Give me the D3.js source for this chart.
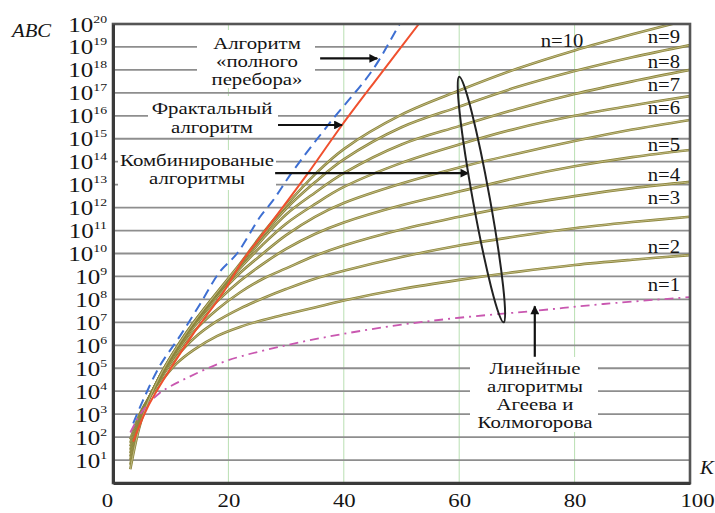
<!DOCTYPE html>
<html>
<head>
<meta charset="utf-8">
<script src="https://cdn.jsdelivr.net/npm/d3@7/dist/d3.min.js"></script>
<style>
  html, body { margin: 0; padding: 0; background: #fff; }
  svg { display: block; font-family: "Liberation Serif", "Times New Roman", serif; }
</style>
</head>
<body>
<svg id="chart" width="715" height="513"></svg>
<script>
// Number of elements K (x axis)
const xTicks = [0, 20, 40, 60, 80, 100];
// Decades shown on the log axis (10^1 … 10^20)
const yExponents = d3.range(1, 21);

// log10(ABC) for the exhaustive ("full search") algorithm
const bruteK   = [3.5, 5.2, 8.1, 11.6, 15.1, 18.5, 21.5, 25.5, 27.7, 31.2, 37.6, 45, 49.7, 52];
const bruteLog = [2.6, 3.6, 5.1, 6.4, 7.8, 9.2, 10.0, 11.6, 12.3, 13.6, 15.7, 18.0, 20.0, 20.9];

// log10(ABC) for the fractal algorithm
const fractalK   = [3.5, 6, 10, 13.9, 19.1, 22.5, 25.5, 33.8, 39.7, 46, 53, 56];
const fractalLog = [1.8, 3.3, 5.0, 6.5, 8.3, 9.7, 10.7, 13.5, 15.6, 17.7, 20.0, 21.0];

// log10(ABC) for the linear algorithms (n = 1)
const linearK   = [3, 5, 8, 13, 20, 30, 40, 50, 60, 73, 85, 100];
const linearLog = [2.2, 3.1, 3.9, 4.6, 5.35, 6.0, 6.5, 6.9, 7.2, 7.5, 7.8, 8.1];

// log10(ABC) for the combined algorithms, n = 2 … 10
const combK  = [3, 5, 8, 11, 14, 18, 22, 26, 30, 35, 40, 50, 60, 70, 80, 90, 100];
const comb2  = [1.9, 3.2, 4.3, 5.2, 5.8, 6.4, 6.8, 7.1, 7.35, 7.65, 7.95, 8.45, 8.85, 9.2, 9.5, 9.73, 9.93];
const comb3  = [1.75, 3.15, 4.45, 5.5, 6.3, 7.05, 7.6, 8.05, 8.45, 8.9, 9.25, 9.85, 10.35, 10.75, 11.1, 11.37, 11.6];
const comb4  = [1.6, 3.1, 4.5, 5.65, 6.6, 7.55, 8.3, 8.9, 9.35, 9.9, 10.35, 11.05, 11.6, 12.1, 12.5, 12.85, 13.12];
const comb5  = [1.45, 3.05, 4.55, 5.75, 6.8, 7.9, 8.8, 9.55, 10.2, 10.85, 11.35, 12.1, 12.7, 13.3, 13.8, 14.2, 14.51];
const comb6  = [1.3, 3.0, 4.58, 5.82, 6.9, 8.1, 9.15, 10.0, 10.8, 11.6, 12.2, 13.05, 13.75, 14.35, 14.9, 15.4, 15.82];
const comb7  = [1.15, 2.95, 4.6, 5.86, 6.95, 8.2, 9.35, 10.4, 11.3, 12.15, 12.9, 13.95, 14.75, 15.45, 16.0, 16.45, 16.86];
const comb8  = [1.0, 2.9, 4.6, 5.88, 6.98, 8.25, 9.45, 10.65, 11.7, 12.65, 13.5, 14.75, 15.55, 16.3, 16.95, 17.5, 18.0];
const comb9  = [0.8, 2.85, 4.6, 5.9, 7.0, 8.28, 9.5, 10.8, 11.95, 13.1, 14.1, 15.5, 16.4, 17.25, 17.95, 18.55, 19.08];
const comb10 = [0.6, 2.8, 4.6, 5.9, 7.0, 8.3, 9.55, 10.9, 12.1, 13.45, 14.55, 16.05, 17.1, 18.05, 18.85, 19.55, 20.2];

const combSeries = [
  { n: 2, v: comb2 }, { n: 3, v: comb3 }, { n: 4, v: comb4 }, { n: 5, v: comb5 },
  { n: 6, v: comb6 }, { n: 7, v: comb7 }, { n: 8, v: comb8 }, { n: 9, v: comb9 },
  { n: 10, v: comb10 }
];

// Curve labels "n=…" (right column) with their baselines
const nLabels = [
  { t: "n=9", y: 43 }, { t: "n=8", y: 68 }, { t: "n=7", y: 91 }, { t: "n=6", y: 114 },
  { t: "n=5", y: 151 }, { t: "n=4", y: 181 }, { t: "n=3", y: 204 }, { t: "n=2", y: 253 },
  { t: "n=1", y: 291 }
];

const svg = d3.select("#chart");
const L = 113, R = 690, T = 24, B = 483;

const x = d3.scaleLinear().domain([0, 100]).range([L, R]);
const y = d3.scaleLog().domain([1, 1e20]).range([B, T]);
const yv = e => y(Math.pow(10, e));

const FONT = "'Liberation Serif', 'Times New Roman', serif";

// Horizontally stretched serif text; several lines go into one text element
function stext(g, px, py, lines, opt = {}) {
  const arr = Array.isArray(lines) ? lines : [lines];
  const t = g.append("text")
    .attr("transform", `translate(${px},${py}) scale(${opt.sx || 1.18},1)`)
    .attr("text-anchor", opt.anchor || "start")
    .attr("font-size", opt.size || 18)
    .attr("font-family", FONT)
    .attr("fill", opt.fill || "#141414");
  if (opt.italic) t.attr("font-style", "italic");
  arr.forEach((s, i) => {
    t.append("tspan").attr("x", 0).attr("dy", i === 0 ? 0 : (opt.lead || 18)).text(s);
  });
  return t;
}

const defs = svg.append("defs");
defs.append("clipPath").attr("id", "plotClip")
  .append("rect").attr("x", L).attr("y", T).attr("width", R - L).attr("height", B - T);
defs.append("marker")
  .attr("id", "arrowHead")
  .attr("viewBox", "0 0 10 10")
  .attr("refX", 9).attr("refY", 5)
  .attr("markerWidth", 5).attr("markerHeight", 4)
  .attr("markerUnits", "strokeWidth")
  .attr("orient", "auto")
  .append("path").attr("d", "M0,0 L10,5 L0,10 z").attr("fill", "#111");

// Grid: vertical (green) and horizontal decade lines
const grid = svg.append("g");
grid.selectAll("line.v").data(xTicks.filter(d => d > 0 && d < 100)).join("line")
  .attr("x1", d => x(d)).attr("x2", d => x(d))
  .attr("y1", T).attr("y2", B)
  .attr("stroke", "#b9dfb2").attr("stroke-width", 1);
grid.selectAll("line.h").data(yExponents.filter(e => e < 20)).join("line")
  .attr("x1", L).attr("x2", R)
  .attr("y1", yv).attr("y2", yv)
  .attr("stroke", "#8e8e8e").attr("stroke-width", 1.8);

// White panels behind annotation text
const panels = [
  { x0: 197, x1: 315, y0: 30, y1: 88 },
  { x0: 148, x1: 278, y0: 96, y1: 135 },
  { x0: 118, x1: 276, y0: 150, y1: 190 },
  { x0: 470, x1: 598, y0: 357, y1: 432 }
];
svg.append("g").selectAll("rect").data(panels).join("rect")
  .attr("x", d => d.x0).attr("y", d => d.y0)
  .attr("width", d => d.x1 - d.x0).attr("height", d => d.y1 - d.y0)
  .attr("fill", "#fff");

// Curves
const plot = svg.append("g").attr("clip-path", "url(#plotClip)");
const line = d3.line()
  .x(d => x(d[0])).y(d => yv(d[1]))
  .curve(d3.curveCatmullRom.alpha(0.5));
const pairs = (ks, vs) => ks.map((k, i) => [k, vs[i]]);

combSeries.forEach(s => {
  plot.append("path").attr("d", line(pairs(combK, s.v)))
    .attr("fill", "none").attr("stroke", "#8c853c").attr("stroke-width", 2.6);
  plot.append("path").attr("d", line(pairs(combK, s.v)))
    .attr("fill", "none").attr("stroke", "#d9d3a3").attr("stroke-width", 0.7);
});

plot.append("path").attr("d", line(pairs(linearK, linearLog)))
  .attr("fill", "none").attr("stroke", "#c957b0").attr("stroke-width", 1.8)
  .attr("stroke-dasharray", "9,5,2,5");

plot.append("path").attr("d", line(pairs(fractalK, fractalLog)))
  .attr("fill", "none").attr("stroke", "#f0502e").attr("stroke-width", 2);

plot.append("path").attr("d", line(pairs(bruteK, bruteLog)))
  .attr("fill", "none").attr("stroke", "#3e6fd2").attr("stroke-width", 2)
  .attr("stroke-dasharray", "10,6");

// Frame / axes
const axisColor = "#3a3a3a";
svg.append("rect").attr("x", L).attr("y", T).attr("width", R - L).attr("height", B - T)
  .attr("fill", "none").attr("stroke", "#555").attr("stroke-width", 2.6);

const yAxis = svg.append("g").attr("transform", `translate(${L},0)`)
  .call(d3.axisLeft(y).tickValues(yExponents.map(e => Math.pow(10, e))).tickSize(0).tickFormat(""));
yAxis.select(".domain").attr("stroke", axisColor).attr("stroke-width", 3);
yAxis.selectAll(".tick").each(function (v) {
  const e = Math.round(Math.log10(v));
  const t = d3.select(this).append("text")
    .attr("transform", "translate(-6,7) scale(1.25,1)")
    .attr("text-anchor", "end")
    .attr("font-family", FONT)
    .attr("font-size", 20)
    .attr("fill", "#141414");
  t.append("tspan").text("10");
  t.append("tspan").attr("dy", -9).attr("font-size", 11).text(e);
});

const xAxis = svg.append("g").attr("transform", `translate(0,${B})`)
  .call(d3.axisBottom(x).tickValues(xTicks).tickSize(0).tickFormat(""));
xAxis.select(".domain").attr("stroke", axisColor).attr("stroke-width", 3);
xAxis.selectAll(".tick").each(function (v) {
  const dx = v === 0 ? -6 : (v === 100 ? 7 : 0);
  d3.select(this).append("text")
    .attr("transform", `translate(${dx},24) scale(1.2,1)`)
    .attr("text-anchor", "middle")
    .attr("font-family", FONT)
    .attr("font-size", 19)
    .attr("fill", "#141414")
    .text(v);
});

// Axis titles
stext(svg, 12, 37, "ABC", { italic: true, size: 18, sx: 1.15 });
stext(svg, 700, 474, "K", { italic: true, size: 18, sx: 1.15 });

// Curve labels
const lab = svg.append("g");
nLabels.forEach(d => stext(lab, 680, d.y, d.t, { anchor: "end", size: 18, sx: 1.15 }));
stext(lab, 562, 47, "n=10", { anchor: "middle", size: 18, sx: 1.15 });

// Annotations
const ann = svg.append("g");
const annStyle = { anchor: "middle", size: 16, sx: 1.3, lead: 18 };
stext(ann, 257, 49, ["Алгоритм", "«полного", "перебора»"], annStyle);
stext(ann, 212, 114, ["Фрактальный", "алгоритм"], { ...annStyle, lead: 19 });
stext(ann, 197, 166, ["Комбинированые", "алгоритмы"], annStyle);
stext(ann, 535, 374, ["Линейные", "алгоритмы", "Агеева и", "Колмогорова"], annStyle);

// Arrows (data coordinates: K, log10 ABC)
const arrows = [
  { k0: 35.9, k1: 45.8, e0: 18.5, e1: 18.5 },
  { k0: 28.6, k1: 39.7, e0: 15.6, e1: 15.6 },
  { k0: 28.1, k1: 61.6, e0: 13.5, e1: 13.5 },
  { k0: 73.1, k1: 73.1, e0: 5.5, e1: 7.7 }
];
ann.selectAll("line.arrow").data(arrows).join("line")
  .attr("x1", d => x(d.k0)).attr("y1", d => yv(d.e0))
  .attr("x2", d => x(d.k1)).attr("y2", d => yv(d.e1))
  .attr("stroke", "#111").attr("stroke-width", 2.2)
  .attr("marker-end", "url(#arrowHead)");

// Ellipse grouping the combined-algorithm curves
const eTop = [x(60.0), yv(17.7)];
const eBot = [x(67.7), yv(7.0)];
const cx = (eTop[0] + eBot[0]) / 2, cy = (eTop[1] + eBot[1]) / 2;
const semiMajor = Math.hypot(eBot[0] - eTop[0], eBot[1] - eTop[1]) / 2;
const tilt = -Math.atan2(eBot[0] - eTop[0], eBot[1] - eTop[1]) * 180 / Math.PI;
ann.append("ellipse")
  .attr("cx", cx).attr("cy", cy)
  .attr("rx", 8.5).attr("ry", semiMajor)
  .attr("transform", `rotate(${tilt},${cx},${cy})`)
  .attr("fill", "none").attr("stroke", "#222").attr("stroke-width", 2);
</script>
</body>
</html>
